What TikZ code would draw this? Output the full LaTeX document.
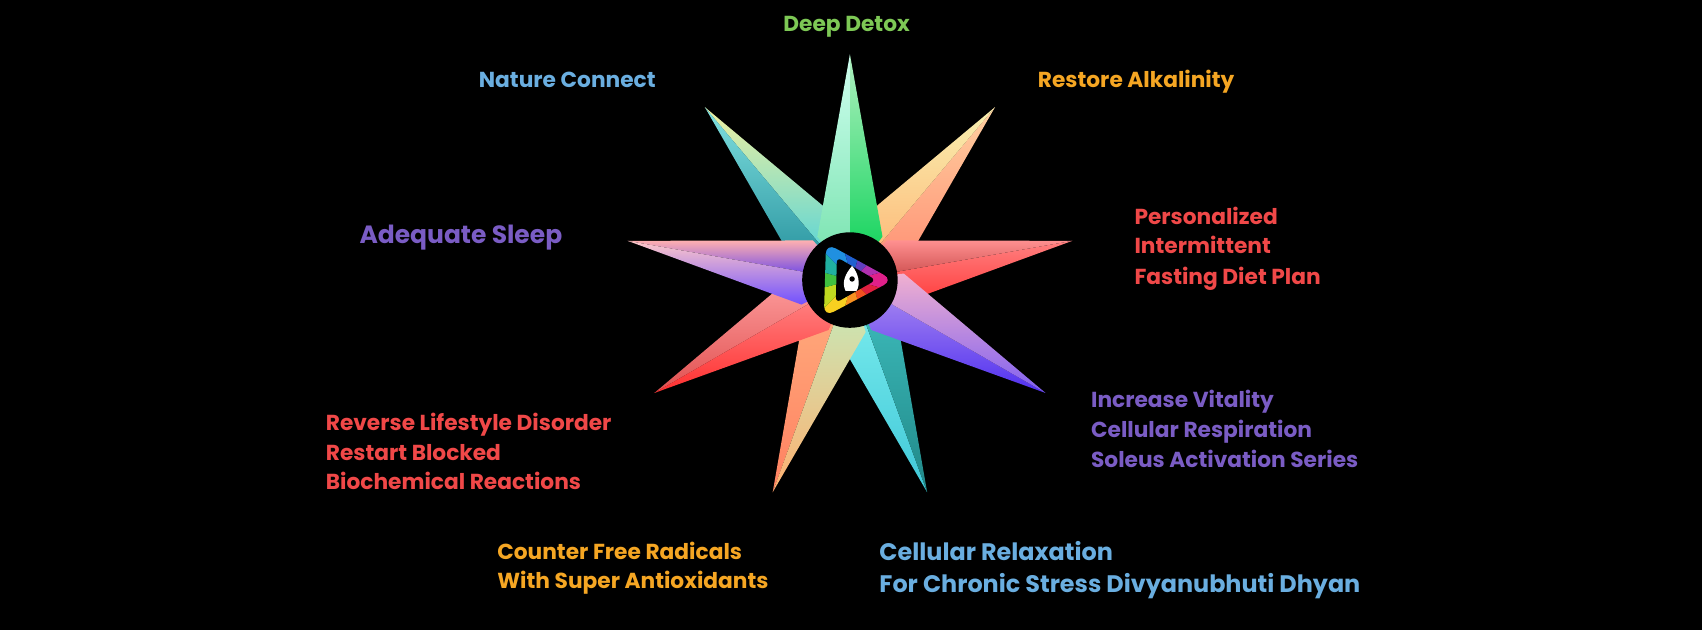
\documentclass[tikz,border=0pt]{standalone}
\usepackage{fontspec}
\setmainfont{Poppins}
\begin{document}
\begin{tikzpicture}[x=1pt,y=-1pt,
  lbl/.style={anchor=base west,inner sep=0pt,font=\fontsize{20}{22}\selectfont\bfseries},
  lblc/.style={anchor=base,inner sep=0pt,font=\fontsize{20}{22}\selectfont\bfseries},
  big/.style={font=\fontsize{22}{24}\selectfont\bfseries}]
\definecolor{cgreen}{HTML}{7DC855}
\definecolor{cblue}{HTML}{6AAEE0}
\definecolor{corange}{HTML}{F5A623}
\definecolor{cpurple}{HTML}{7A5CC4}
\definecolor{cred}{HTML}{F04848}
\fill[black] (0,0) rectangle (1568,580);
\useasboundingbox (0,0) rectangle (1568,580);
\newcommand{\spk}[5]{%
  \definecolor{sta}{HTML}{#2}\definecolor{sba}{HTML}{#3}%
  \definecolor{stb}{HTML}{#4}\definecolor{sbb}{HTML}{#5}%
  \begin{scope}[shift={(783,258)},rotate=#1]
   \shade[shading angle=#1-90,top color=sta,bottom color=sba] (0,0) -- (40,30) -- (208,0) -- cycle;
   \shade[shading angle=#1-90,top color=stb,bottom color=sbb] (0,0) -- (40,-30) -- (208,0) -- cycle;
  \end{scope}}
\spk{130}{F0F0A0}{40D0E0}{80E0E0}{208C98}
\spk{-70}{80F0F0}{40C8D8}{40C0C0}{208888}
\spk{50}{FFD0A0}{FF8A70}{F8F0B0}{FFB070}
\spk{-110}{FFB080}{FF8060}{C0F0C0}{FFB070}
\spk{10}{FF8080}{FF3A3A}{FF9090}{C84848}
\spk{-150}{FFA0A0}{E05050}{FF9090}{FF3030}
\spk{-30}{B090F0}{5030F0}{F0B0D0}{8060F0}
\spk{170}{FFB0B0}{5A3AF0}{FFC8C8}{7050FF}
\spk{90}{B0F0C0}{00D050}{D0FFF0}{70E0A8}
% center emblem
\node[circle,fill=black,minimum size=88pt,inner sep=0pt] (hub) at (783,258) {};
\begin{scope}[shift={(785,258)}]
 \begin{scope}
  \clip[rounded corners=10pt] (38,0) -- (-24,-34) -- (-26,34) -- cycle;
  \foreach \a/\c in {0/E0208A,30/E02040,60/F05020,90/F89020,120/F8D020,150/C0D820,180/40C040,210/20B0A0,240/2090E0,270/2060D0,300/6040C0,330/B030B0}{
   \definecolor{wc}{HTML}{\c}
   \fill[wc] (0,0) -- (\a-15:60) -- (\a+15:60) -- cycle;}
 \end{scope}
 \fill[black,rounded corners=5pt] (22,0) -- (-14,-21) -- (-15,21) -- cycle;
 \fill[white] (-6,10) .. controls (-10,2) and (-6,-6) .. (0,-13) .. controls (6,-6) and (8,4) .. (4,10) -- cycle;
 \fill[black] (0,-1) circle (2.5pt);
\end{scope}
% labels
\node[lblc,text=cgreen] (l1) at (780,29) {Deep Detox};
\node[lbl,text=cblue] (l2) at (441,81) {Nature Connect};
\node[lbl,text=corange] (l3) at (956,81) {Restore Alkalinity};
\node[lbl,big,text=cpurple,font=\fontsize{23}{24}\selectfont\bfseries] (l4) at (331,224) {Adequate Sleep};
\node[lbl,text=cred] (l5a) at (1045,207) {Personalized};
\node[lbl,text=cred] (l5b) at (1045,234) {Intermittent};
\node[lbl,text=cred] (l5c) at (1045,262) {Fasting Diet Plan};
\node[lbl,text=cpurple] (l6a) at (1005,375) {Increase Vitality};
\node[lbl,text=cpurple] (l6b) at (1005,403) {Cellular Respiration};
\node[lbl,text=cpurple] (l6c) at (1005,431) {Soleus Activation Series};
\node[lbl,text=cred] (l7a) at (300,397) {Reverse Lifestyle Disorder};
\node[lbl,text=cred] (l7b) at (300,424) {Restart Blocked};
\node[lbl,text=cred] (l7c) at (300,451) {Biochemical Reactions};
\node[lbl,text=corange] (l8a) at (458,515) {Counter Free Radicals};
\node[lbl,text=corange] (l8b) at (458,542) {With Super Antioxidants};
\node[lbl,big,text=cblue] (l9a) at (810,516) {Cellular Relaxation};
\node[lbl,big,text=cblue] (l9b) at (810,546) {For Chronic Stress Divyanubhuti Dhyan};
\end{tikzpicture}
\end{document}
